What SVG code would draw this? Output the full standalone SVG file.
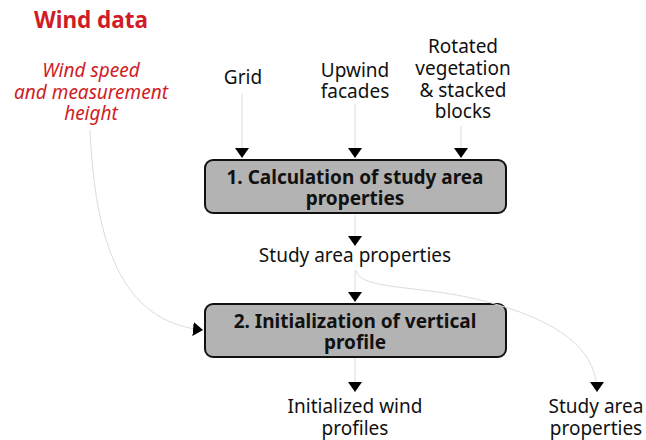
<svg xmlns="http://www.w3.org/2000/svg" width="646" height="440" viewBox="0 0 646 440">
<defs>
<style>
text{font-family:"Noto Sans","Open Sans","DejaVu Sans",sans-serif;font-size:19px;fill:#111;text-anchor:middle}
.red{fill:#d01c27}
.b{font-weight:bold}
.it{font-style:italic}
.box{fill:#b3b3b3;stroke:#111;stroke-width:2}
.c{fill:none;stroke:#dcdcdc;stroke-width:1}
</style>
<marker id="ah" viewBox="0 0 10 14" refX="10" refY="7" markerWidth="10" markerHeight="14" markerUnits="userSpaceOnUse" orient="auto">
<path d="M0,0 L10,7 L0,14 Z" fill="#000"/>
</marker>
</defs>
<rect width="646" height="440" fill="#fff"/>
<g id="title"><text class="red b" x="91" y="28" style="font-size:22.5px">Wind data</text></g>
<g id="wind-speed"><text class="red it" x="91" y="77">Wind speed</text><text class="red it" x="91" y="99">and measurement</text><text class="red it" x="91" y="120">height</text></g>
<g id="grid"><text x="243" y="84">Grid</text></g>
<g id="upwind"><text x="355" y="77">Upwind</text><text x="355" y="98">facades</text></g>
<g id="rotated"><text x="463" y="53">Rotated</text><text x="463" y="75">vegetation</text><text x="463" y="97">&amp; stacked</text><text x="463" y="118">blocks</text></g>
<g id="step1"><rect class="box" x="205" y="160" width="301" height="53" rx="8"/><text class="b" x="355" y="184">1. Calculation of study area</text><text class="b" x="355" y="205">properties</text></g>
<g id="sap"><text x="355" y="262">Study area properties</text></g>
<g id="step2"><rect class="box" x="205" y="304" width="301" height="53" rx="8"/><text class="b" x="355" y="328">2. Initialization of vertical</text><text class="b" x="355" y="349">profile</text></g>
<g id="iwp"><text x="355" y="413">Initialized wind</text><text x="355" y="435">profiles</text></g>
<g id="sap2"><text x="596" y="413">Study area</text><text x="596" y="435">properties</text></g>
<g id="connectors">
<path class="c" d="M242,94 L242,158" marker-end="url(#ah)"/>
<path class="c" d="M355,104 L355,158" marker-end="url(#ah)"/>
<path class="c" d="M461,126 L461,158" marker-end="url(#ah)"/>
<path class="c" d="M355,215 L355,246" marker-end="url(#ah)"/>
<path class="c" d="M355,270 L355,302" marker-end="url(#ah)"/>
<path class="c" d="M355,358 L355,392" marker-end="url(#ah)"/>
<path class="c" d="M356,270 C358,290 420,285 480,300 C560,320 597,350 597,392" marker-end="url(#ah)"/>
<path class="c" d="M90,130 C95,240 120,322 203,330" marker-end="url(#ah)"/>
</g>
</svg>
